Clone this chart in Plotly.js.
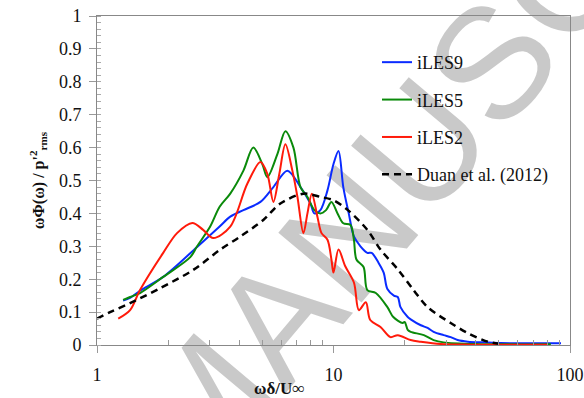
<!DOCTYPE html>
<html><head><meta charset="utf-8">
<script src="https://cdn.plot.ly/plotly-3.0.1.min.js"></script>
<style>html,body{margin:0;padding:0;background:#fff}#chart{width:584px;height:398px}</style>
</head><body><div id="chart"></div>
<script>
// iLES9 (blue)
const les9X = [1.29,1.38,1.52,1.905,2.65,3.3,3.66,4.16,4.91,5.57,6.38,7.25,7.99,8.3,8.8,9.43,10.0,10.5,11.0,11.6,12.2,13.0,13.9,14.5,15.5,16.3,16.9,18.0,18.7,19.2,20.6,21.2,23.4,25.0,26.5,29.2,31.3,33.5,37.0,43.2,51,70,91.6];
const les9Y = [0.135,0.143,0.165,0.207,0.298,0.36,0.39,0.41,0.435,0.48,0.53,0.48,0.43,0.40,0.41,0.47,0.55,0.59,0.48,0.40,0.33,0.30,0.28,0.28,0.25,0.22,0.17,0.15,0.146,0.115,0.085,0.078,0.06,0.052,0.04,0.03,0.024,0.015,0.01,0.008,0.006,0.005,0.005];
// iLES5 (green)
const les5X = [1.29,1.38,1.52,1.905,2.48,2.65,3.01,3.3,3.66,4.16,4.58,5.0,5.25,5.79,6.26,6.77,7.25,7.76,8.3,8.8,9.3,9.8,10.4,11.0,11.8,12.2,12.5,13.4,13.9,15.1,16.9,17.9,19.6,20.0,20.6,21.2,24.1,26.5,29.2,40,83];
const les5Y = [0.137,0.146,0.158,0.207,0.267,0.30,0.36,0.42,0.46,0.53,0.60,0.55,0.51,0.58,0.65,0.60,0.48,0.45,0.41,0.40,0.41,0.435,0.40,0.37,0.365,0.32,0.26,0.237,0.167,0.158,0.115,0.085,0.067,0.07,0.046,0.04,0.03,0.015,0.008,0.003,0.002];
// iLES2 (red)
const les2X = [1.23,1.38,1.52,1.905,2.18,2.53,2.81,3.10,3.66,4.32,4.91,5.25,5.57,5.9,6.26,6.7,7.04,7.46,7.76,8.1,8.55,8.9,9.43,9.8,10.0,10.5,11.2,12.2,12.8,13.7,14.3,15.8,17.4,18.7,21.2,23.4,28.4,38,80.7];
const les2Y = [0.08,0.106,0.167,0.28,0.34,0.371,0.35,0.325,0.36,0.49,0.556,0.52,0.435,0.52,0.61,0.53,0.45,0.34,0.40,0.46,0.39,0.34,0.32,0.26,0.22,0.29,0.24,0.19,0.106,0.13,0.076,0.055,0.024,0.03,0.015,0.01,0.003,0.001,0.001];
// Duan et al. (2012) (black dashed)
const duanX = [1.0,1.135,1.38,1.85,2.55,3.32,4.04,5.05,5.96,7.46,8.81,10.0,11.5,13.9,15.8,18.7,21.8,25.0,31.3,37.0,45,50];
const duanY = [0.08,0.10,0.127,0.173,0.228,0.29,0.33,0.38,0.43,0.46,0.45,0.44,0.41,0.35,0.29,0.23,0.167,0.115,0.067,0.036,0.01,0.004];

const yTicks = [0,0.1,0.2,0.3,0.4,0.5,0.6,0.7,0.8,0.9,1];
const yTickText = ['0','0.1','0.2','0.3','0.4','0.5','0.6','0.7','0.8','0.9','1'];
const xTicks = [1,10,100];
const xTickText = ['1','10','100'];

const serif = 'Liberation Serif, Times New Roman, serif';
function tr(x,y,name,color,dash,grp){
  return {x:x,y:y,name:name,type:'scatter',mode:'lines',legendgroup:grp,
    line:{color:color,width:2,shape:'spline',smoothing:0.9,dash:dash||'solid'}};
}
const data = [
  tr(les9X,les9Y,'iLES9','#0a2bff',null,'a'),
  tr(les5X,les5Y,'iLES5','#0a8a0a',null,'b'),
  tr(les2X,les2Y,'iLES2','#ff1a0a',null,'c'),
  tr(duanX,duanY,'Duan et al. (2012)','#000000','7px,5px','d')
];
data[3].line.width=2.5;

const layout = {
  width:584,height:398,
  margin:{l:97,r:14,t:16,b:53},
  paper_bgcolor:'#fff',plot_bgcolor:'#fff',
  showlegend:true,
  legend:{x:0.592,y:0.915,xanchor:'left',yanchor:'top',bgcolor:'rgba(0,0,0,0)',
    font:{family:serif,size:18,color:'#111'},traceorder:'grouped',tracegroupgap:11},
  xaxis:{type:'log',range:[0,2],tickvals:xTicks,ticktext:xTickText,
    ticks:'outside',ticklen:7,tickcolor:'#999',tickwidth:1,
    showline:true,linecolor:'#888',linewidth:1,mirror:true,showgrid:false,zeroline:false,
    tickfont:{family:serif,size:18,color:'#111'},ticklabelstandoff:6,
    minor:{tickvals:[2,3,4,5,6,7,8,9,20,30,40,50,60,70,80,90],ticks:'inside',ticklen:5,tickcolor:'#999',showgrid:false}},
  yaxis:{range:[0,1],tickvals:yTicks,ticktext:yTickText,
    ticks:'outside',ticklen:7,tickcolor:'#999',tickwidth:1,
    showline:true,linecolor:'#888',linewidth:1,mirror:true,showgrid:false,zeroline:false,
    tickfont:{family:serif,size:18,color:'#111'},ticklabelstandoff:4,
    minor:{dtick:0.02,ticks:'inside',ticklen:4,tickcolor:'#aaa',showgrid:false},
    title:{text:'<b>ωΦ(ω) / p\'<sup>2</sup><sub>rms</sub></b>',font:{family:serif,size:16,color:'#111'},standoff:10}},
  annotations:[{text:'<b>ωδ/U∞</b>',xref:'paper',yref:'paper',x:(279-97)/473,y:-(388-345)/329,
    xanchor:'center',yanchor:'middle',showarrow:false,font:{family:serif,size:17,color:'#111'}}],
  shapes:[{type:'rect',xref:'paper',yref:'paper',x0:0.616,x1:1.016,y0:0.70,y1:1.10,
    line:{width:0},fillcolor:'rgba(0,0,0,0)',layer:'below',
    label:{text:'MANUSCRIPT',textangle:-50,textposition:'middle center',
      font:{family:'Liberation Sans, Arial, sans-serif',size:158,color:'rgba(165,165,165,0.6)'}}}]
};
Plotly.newPlot('chart',data,layout,{displayModeBar:false,staticPlot:true});
</script></body></html>
